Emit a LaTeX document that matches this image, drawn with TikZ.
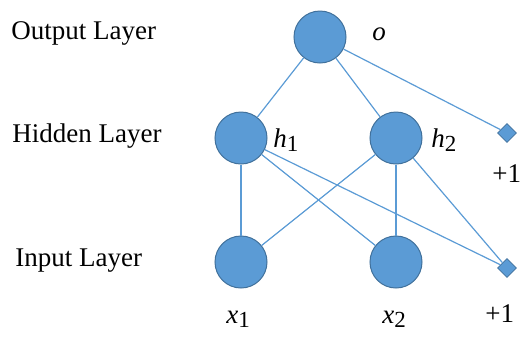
\documentclass[tikz,border=0pt]{standalone}
\usepackage{fontspec}
\setmainfont{Liberation Serif}
\usepackage{xcolor}
\usetikzlibrary{shapes.geometric}
\definecolor{unitblue}{HTML}{5B9BD5}
\definecolor{unitedge}{HTML}{41719C}
\newcommand\subVar[2]{\textit{#1}\raisebox{-0.4ex}{\fontsize{11.5}{13}\selectfont #2}}

\begin{document}
\begin{tikzpicture}[x=0.5pt,y=-0.5pt,
        unit/.style={circle,fill=unitblue,draw=unitedge,line width=0.5pt,minimum size=26pt,inner sep=0pt},
        bias/.style={diamond,fill=unitblue,draw=unitedge,line width=0.3pt,minimum size=9.5pt,inner sep=0pt},
        link/.style={draw=unitblue,line width=0.6pt},
        txt/.style={anchor=base west,inner sep=0pt,font=\fontsize{13.5}{16}\selectfont}]
        \useasboundingbox (0,0) rectangle (521,339);
        % layer names
        \node[txt] (outName) at (11,39) {Output Layer};
        \node[txt] (hidName) at (12,142) {Hidden Layer};
        \node[txt] (inName) at (15,266) {Input Layer};
        % units
        \node[unit] (o) at (320,37) {};
        \node[unit] (h1) at (241,138) {};
        \node[unit] (h2) at (396,138) {};
        \node[unit] (x1) at (241,262) {};
        \node[unit] (x2) at (396,262) {};
        \node[bias] (bh) at (507,133) {};
        \node[bias] (bx) at (507,268) {};
        % unit labels
        \node[txt] (oLbl) at (372,40) {\textit{o}};
        \node[txt] (h1Lbl) at (273,147) {\subVar{h}{1}};
        \node[txt] (h2Lbl) at (431,147) {\subVar{h}{2}};
        \node[txt] (x1Lbl) at (226,323) {\subVar{x}{1}};
        \node[txt] (x2Lbl) at (382,323) {\subVar{x}{2}};
        \node[txt] (bhLbl) at (492,182) {+1};
        \node[txt] (bxLbl) at (485,322) {+1};
        % links
        \draw[link] (o) -- (h1);
        \draw[link] (o) -- (h2);
        \draw[link] (o) -- (bh);
        \draw[link] (h1) -- (x1);
        \draw[link] (h1) -- (x2);
        \draw[link] (h1) -- (bx);
        \draw[link] (h2) -- (x1);
        \draw[link] (h2) -- (x2);
        \draw[link] (h2) -- (bx);
\end{tikzpicture}
\end{document}
